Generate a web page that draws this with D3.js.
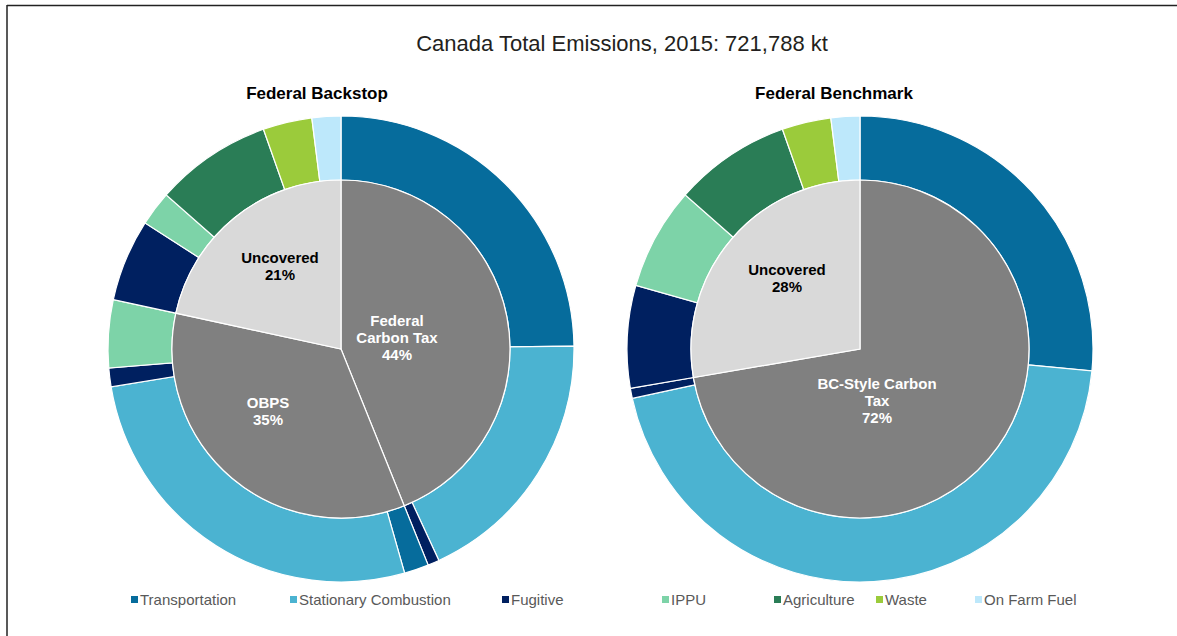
<!DOCTYPE html>
<html>
<head>
<meta charset="utf-8">
<script src="https://cdn.jsdelivr.net/npm/d3@7/dist/d3.min.js"></script>
<style>
  body { margin: 0; background: #fff; }
  svg { display: block; font-family: "Liberation Sans", Arial, sans-serif; }
</style>
</head>
<body>
<svg id="chart" width="1177" height="636"></svg>
<script>
// categories of the outer ring (share of total emissions, %)
const categories = ["Transportation", "Stationary Combustion", "Fugitive", "IPPU", "Agriculture", "Waste", "On Farm Fuel"];
const categoryColors = ["#066c9c", "#4bb3d1", "#002060", "#7dd3a8", "#2a7d56", "#9bcb3b", "#bde8fb"];

// Federal Backstop, outer ring by coverage group
const backstopCarbonTax = [24.8, 18.3, 0.8, 0, 0, 0, 0];
const backstopOBPS      = [1.7, 26.8, 1.3, 4.7, 0, 0, 0];
const backstopUncovered = [0, 0, 5.7, 2.4, 8.1, 3.4, 2.0];
const backstopNames  = [["Federal", "Carbon Tax"], ["OBPS"], ["Uncovered"]];
const backstopPct    = ["44%", "35%", "21%"];

// Federal Benchmark
const benchmarkCarbonTax = [26.5, 45.1, 0.7, 0, 0, 0, 0];
const benchmarkUncovered = [0, 0, 7.1, 7.1, 8.1, 3.4, 2.0];
const benchmarkNames = [["BC-Style Carbon", "Tax"], ["Uncovered"]];
const benchmarkPct   = ["72%", "28%"];

const groupColors = ["#808080", "#808080", "#d9d9d9"];

const svg = d3.select("#chart");

// frame lines
svg.append("line").attr("x1", 7).attr("y1", 5.5).attr("x2", 1177).attr("y2", 5.5)
  .attr("stroke", "#222").attr("stroke-width", 1.5);
svg.append("line").attr("x1", 7).attr("y1", 5).attr("x2", 7).attr("y2", 636)
  .attr("stroke", "#222").attr("stroke-width", 1.5);

svg.append("text").attr("x", 622).attr("y", 51).attr("text-anchor", "middle")
  .attr("font-size", 22).attr("fill", "#231f20")
  .text("Canada Total Emissions, 2015: 721,788 kt");

function drawDonut(cx, cy, title, titleX, groups, names, pcts, labelPos) {
  const g = svg.append("g").attr("transform", `translate(${cx},${cy})`);
  const rIn = 169, rOut = 233;

  svg.append("text").attr("x", titleX).attr("y", 99).attr("text-anchor", "middle")
    .attr("font-size", 17).attr("font-weight", "bold").attr("fill", "#000")
    .text(title);

  // outer ring: each group's categories in order
  let ring = [];
  groups.forEach((vals, gi) => {
    vals.forEach((v, ci) => { if (v > 0) ring.push({ group: gi, cat: ci, value: v }); });
  });
  const inner = groups.map((vals, gi) => ({ group: gi, value: d3.sum(vals) }));

  const pie = d3.pie().sort(null).value(d => d.value);
  const pieArc = d3.arc().innerRadius(0).outerRadius(rIn);
  const ringArc = d3.arc().innerRadius(rIn).outerRadius(rOut);

  g.selectAll("path.ring").data(pie(ring)).join("path")
    .attr("class", "ring")
    .attr("d", ringArc)
    .attr("fill", d => categoryColors[d.data.cat])
    .attr("stroke", "#fff").attr("stroke-width", 1.2);

  const slices = pie(inner);
  g.selectAll("path.inner").data(slices).join("path")
    .attr("class", "inner")
    .attr("d", pieArc)
    .attr("fill", (d, i) => i === groups.length - 1 ? groupColors[2] : groupColors[0])
    .attr("stroke", "#fff").attr("stroke-width", 1.2);

  slices.forEach((d, i) => {
    const lines = names[i].concat([pcts[i]]);
    const dark = i === groups.length - 1;
    const t = g.append("text")
      .attr("text-anchor", "middle")
      .attr("font-size", 15).attr("font-weight", "bold")
      .attr("fill", dark ? "#000" : "#fff");
    const y0 = labelPos[i][1] - (lines.length - 1) * 17 / 2 + 5;
    lines.forEach((ln, k) => {
      t.append("tspan").attr("x", labelPos[i][0]).attr("y", y0 + k * 17).text(ln);
    });
  });
}

drawDonut(341, 349, "Federal Backstop", 317,
  [backstopCarbonTax, backstopOBPS, backstopUncovered], backstopNames, backstopPct,
  [[56, -11], [-73, 62], [-61, -83]]);

drawDonut(860, 349, "Federal Benchmark", 834,
  [benchmarkCarbonTax, benchmarkUncovered], benchmarkNames, benchmarkPct,
  [[17, 52], [-73, -71]]);

// legend
const legendX = [131, 290, 502, 662, 774, 876, 975];
const legend = svg.append("g");
categories.forEach((c, i) => {
  legend.append("rect").attr("x", legendX[i]).attr("y", 596).attr("width", 7).attr("height", 7)
    .attr("fill", categoryColors[i]);
  legend.append("text").attr("x", legendX[i] + 9).attr("y", 605)
    .attr("font-size", 15).attr("fill", "#595959").text(c);
});
</script>
</body>
</html>
